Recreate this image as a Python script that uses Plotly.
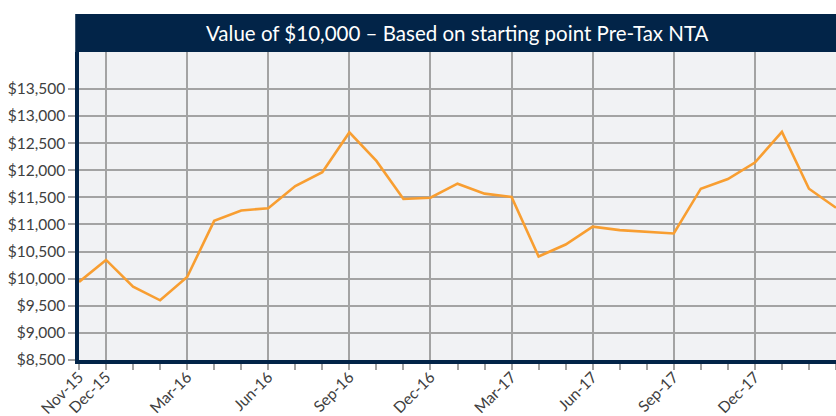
import plotly.graph_objects as go

months = ["Nov-15", "Dec-15", "Jan-16", "Feb-16", "Mar-16", "Apr-16", "May-16", "Jun-16",
          "Jul-16", "Aug-16", "Sep-16", "Oct-16", "Nov-16", "Dec-16", "Jan-17", "Feb-17",
          "Mar-17", "Apr-17", "May-17", "Jun-17", "Jul-17", "Aug-17", "Sep-17", "Oct-17",
          "Nov-17", "Dec-17", "Jan-18", "Feb-18", "Mar-18"]
values = [9940, 10345, 9852, 9601, 10031, 11066, 11258, 11298,
          11708, 11963, 12697, 12172, 11469, 11493, 11751, 11568,
          11506, 10408, 10629, 10958, 10895, 10858, 10834, 11659,
          11838, 12142, 12708, 11659, 11308]
x_tick_labels = ["Nov-15", "Dec-15", "Mar-16", "Jun-16", "Sep-16", "Dec-16",
                 "Mar-17", "Jun-17", "Sep-17", "Dec-17", "Mar-18"]
y_tick_values = [8500, 9000, 9500, 10000, 10500, 11000, 11500, 12000, 12500, 13000, 13500]
y_tick_labels = ["$8,500", "$9,000", "$9,500", "$10,000", "$10,500", "$11,000",
                 "$11,500", "$12,000", "$12,500", "$13,000", "$13,500"]
title_text = "Value of $10,000 – Based on starting point Pre-Tax NTA"

NAVY = "#022448"
GRID = "#a3a3a3"
FONT = "Lato"

xi = list(range(len(months)))
x_tick_pos = [months.index(m) for m in x_tick_labels]

fig = go.Figure()
fig.add_trace(go.Scatter(x=xi, y=values, mode="lines",
                         line=dict(color="#f89e31", width=2.6),
                         hoverinfo="skip", showlegend=False))

plot_h = 416 - 52 - 56
fig.add_shape(type="rect", xref="paper", yref="paper",
              x0=-0.005, x1=1.0, y0=1.0, y1=1 + 38 / plot_h,
              fillcolor=NAVY, line=dict(width=0), layer="above")
fig.add_annotation(text=title_text, xref="paper", yref="paper",
                   x=0.5, y=1 + 19 / plot_h, showarrow=False,
                   font=dict(family=FONT, size=20.5, color="white"),
                   xanchor="center", yanchor="middle")

fig.update_layout(
    width=836, height=416,
    margin=dict(l=79, r=0, t=52, b=56),
    paper_bgcolor="white", plot_bgcolor="#f1f2f4",
    font=dict(family=FONT, color="#404040"),
    xaxis=dict(range=[0, 28], tickvals=x_tick_pos, ticktext=x_tick_labels,
               tickangle=-45, tickfont=dict(size=15.5, color="#404040"),
               automargin=False, ticklabelstandoff=-8,
               showgrid=True, gridcolor=GRID, gridwidth=1.5,
               ticks="outside", ticklen=6, tickcolor=GRID, tickwidth=1.5,
               minor=dict(dtick=1, tick0=0, ticks="outside", ticklen=6,
                          tickcolor=GRID, tickwidth=1.5, showgrid=False),
               showline=True, linecolor=NAVY, linewidth=4, zeroline=False,
               mirror=False),
    yaxis=dict(range=[8500, 14180], tickvals=y_tick_values, ticktext=y_tick_labels,
               tickfont=dict(size=15.5, color="#404040"),
               automargin=False,
               showgrid=True, gridcolor=GRID, gridwidth=1.5,
               ticks="outside", ticklen=7, tickcolor=GRID, tickwidth=1.5,
               showline=True, linecolor=NAVY, linewidth=3.5, zeroline=False,
               mirror=True),
)

fig.write_html("out.html", config={"displayModeBar": False},
               post_script="document.body.style.margin='0';document.body.style.overflow='hidden';")
